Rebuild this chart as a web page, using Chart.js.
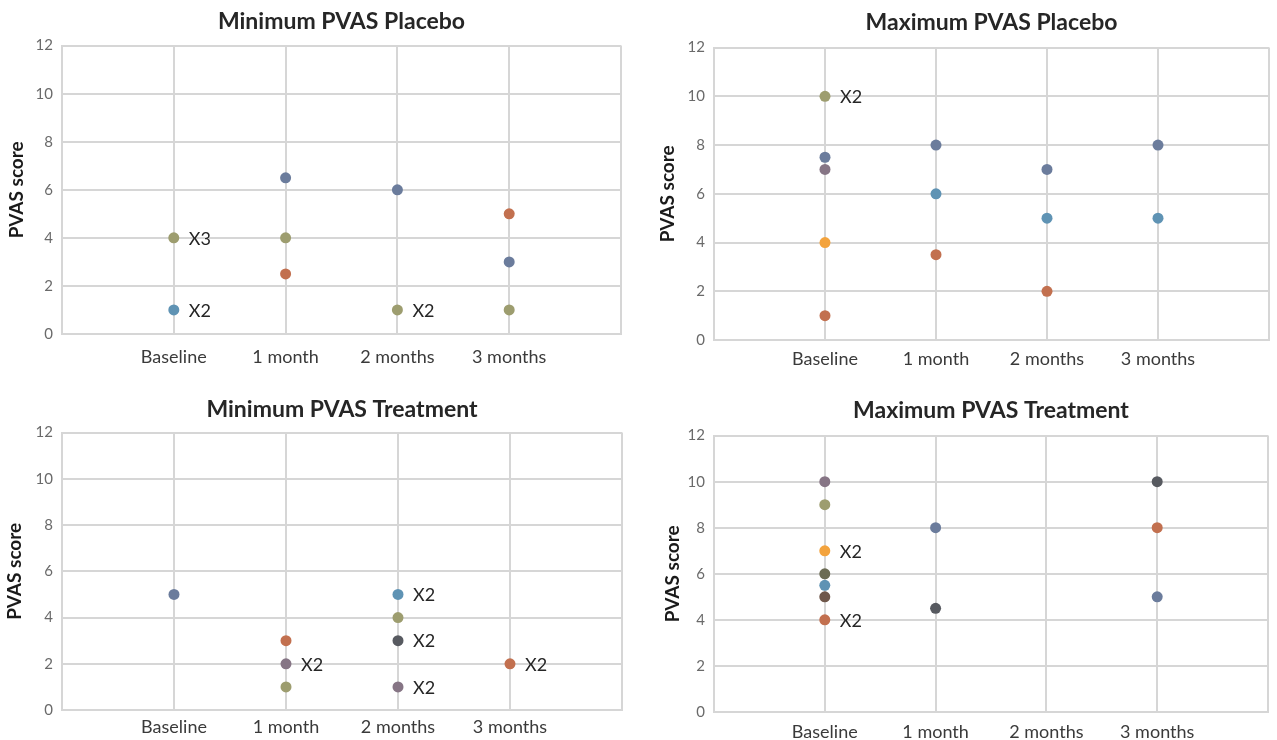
<!DOCTYPE html>
<html>
<head>
<meta charset="utf-8">
<script src="https://cdn.jsdelivr.net/npm/chart.js@4.4.1/dist/chart.umd.min.js"></script>
<style>
  body { margin: 0; background: #fff; }
  .panel { position: absolute; }
</style>
</head>
<body>
<div class="panel" style="left:0;top:0"><canvas id="minPlacebo" width="640" height="370"></canvas></div>
<div class="panel" style="left:640px;top:0"><canvas id="maxPlacebo" width="637" height="370"></canvas></div>
<div class="panel" style="left:0;top:370px"><canvas id="minTreatment" width="640" height="370"></canvas></div>
<div class="panel" style="left:640px;top:370px"><canvas id="maxTreatment" width="637" height="370"></canvas></div>
<script>
'use strict';

const categories = ['Baseline', '1 month', '2 months', '3 months'];
const yTicks = [0, 2, 4, 6, 8, 10, 12];

// one row per marker colour; values at Baseline, 1 month, 2 months, 3 months
const minPlaceboColours = ['slate', 'rust', 'olive', 'steel'];
const minPlaceboValues = [
  [null, 6.5, 6, 3],
  [null, 2.5, null, 5],
  [4, 4, 1, 1],
  [1, null, null, null]
];
// [row, category, patients sharing that point]
const minPlaceboRepeats = [[2, 0, 3], [3, 0, 2], [2, 2, 2]];

const maxPlaceboColours = ['slate', 'rust', 'olive', 'steel', 'orange', 'mauve'];
const maxPlaceboValues = [
  [7.5, 8, 7, 8],
  [1, 3.5, 2, null],
  [10, null, null, null],
  [null, 6, 5, 5],
  [4, null, null, null],
  [7, null, null, null]
];
const maxPlaceboRepeats = [[2, 0, 2]];

const minTreatmentColours = ['slate', 'rust', 'olive', 'steel', 'mauve', 'charcoal'];
const minTreatmentValues = [
  [5, null, null, null],
  [null, 3, null, 2],
  [null, 1, 4, null],
  [null, null, 5, null],
  [null, 2, 1, null],
  [null, null, 3, null]
];
const minTreatmentRepeats = [[4, 1, 2], [3, 2, 2], [5, 2, 2], [4, 2, 2], [1, 3, 2]];

const maxTreatmentColours = ['slate', 'rust', 'olive', 'steel', 'orange', 'mauve', 'charcoal', 'darkOlive', 'brown'];
const maxTreatmentValues = [
  [null, 8, null, 5],
  [4, null, null, 8],
  [9, null, null, null],
  [5.5, null, null, null],
  [7, null, null, null],
  [10, null, null, null],
  [null, 4.5, null, 10],
  [6, null, null, null],
  [5, null, null, null]
];
const maxTreatmentRepeats = [[4, 0, 2], [1, 0, 2]];

const palette = {
  slate: '#6b7c9c',
  rust: '#c2704f',
  olive: '#9d9d6f',
  steel: '#5f93b4',
  orange: '#f3a33d',
  mauve: '#867585',
  charcoal: '#575a60',
  darkOlive: '#6b6b53',
  brown: '#6f574b'
};

const gridColour = '#d6d6d6';
Chart.defaults.font.family = 'Lato';

function repeatPlugin(repeats) {
  return {
    id: 'repeatLabels',
    afterDatasetsDraw(chart) {
      const ctx = chart.ctx;
      ctx.save();
      ctx.font = '18px Lato';
      ctx.fillStyle = '#262626';
      ctx.textBaseline = 'middle';
      ctx.textAlign = 'left';
      repeats.forEach(function (r) {
        const pt = chart.getDatasetMeta(r[0]).data[r[1] + 1];
        ctx.fillText('X' + r[2], pt.x + 15, pt.y + 1);
      });
      ctx.restore();
    }
  };
}

function makeChart(id, title, colours, values, repeats, box) {
  const labels = [''].concat(categories, ['']);
  const datasets = values.map(function (row, i) {
    const c = palette[colours[i]];
    return {
      data: [null].concat(row, [null]),
      showLine: false,
      pointRadius: 5.5,
      pointBackgroundColor: c,
      pointBorderColor: c,
      pointBorderWidth: 0
    };
  });

  const ctx = document.getElementById(id).getContext('2d');
  return new Chart(ctx, {
    type: 'line',
    data: { labels: labels, datasets: datasets },
    options: {
      responsive: false,
      animation: false,
      devicePixelRatio: 1,
      layout: { padding: { left: 0, right: box.right, top: 0, bottom: 0 } },
      plugins: {
        legend: { display: false },
        tooltip: { enabled: false },
        title: {
          display: true,
          fullSize: false,
          text: title,
          color: '#262626',
          font: { size: 23, weight: 'bold' },
          padding: { top: box.titleTop, bottom: box.titleBottom }
        }
      },
      scales: {
        x: {
          type: 'category',
          offset: false,
          grid: { color: gridColour, lineWidth: 2, drawTicks: false },
          border: { color: gridColour, width: 2 },
          ticks: {
            color: '#3a3a3a',
            font: { size: 18 },
            padding: box.xPad,
            maxRotation: 0,
            autoSkip: false
          },
          afterFit: function (s) { s.height = box.xHeight; }
        },
        y: {
          min: 0,
          max: 12,
          grid: { color: gridColour, lineWidth: 2, drawTicks: false },
          border: { color: gridColour, width: 2 },
          ticks: { color: '#6a6a6a', font: { size: 15 }, padding: 9 },
          afterBuildTicks: function (s) { s.ticks = yTicks.map(function (v) { return { value: v }; }); },
          title: {
            display: true,
            text: 'PVAS score',
            color: '#1a1a1a',
            font: { size: 19, weight: 'bold' },
            padding: { top: box.yTitlePad, bottom: 0 }
          },
          afterFit: function (s) { s.width = box.yWidth; }
        }
      }
    },
    plugins: [repeatPlugin(repeats)]
  });
}

makeChart('minPlacebo', 'Minimum PVAS Placebo', minPlaceboColours, minPlaceboValues, minPlaceboRepeats,
  { titleTop: 8, titleBottom: 10, right: 19, yWidth: 62, yTitlePad: 5, xHeight: 36, xPad: 12 });
makeChart('maxPlacebo', 'Maximum PVAS Placebo', maxPlaceboColours, maxPlaceboValues, maxPlaceboRepeats,
  { titleTop: 9, titleBottom: 11, right: 2, yWidth: 74, yTitlePad: 16, xHeight: 30, xPad: 8 });
makeChart('minTreatment', 'Minimum PVAS Treatment', minTreatmentColours, minTreatmentValues, minTreatmentRepeats,
  { titleTop: 26, titleBottom: 9, right: 18, yWidth: 62, yTitlePad: 3, xHeight: 30, xPad: 6 });
makeChart('maxTreatment', 'Maximum PVAS Treatment', maxTreatmentColours, maxTreatmentValues, maxTreatmentRepeats,
  { titleTop: 27, titleBottom: 11, right: 1, yWidth: 74, yTitlePad: 21, xHeight: 28, xPad: 9 });
</script>
</body>
</html>
